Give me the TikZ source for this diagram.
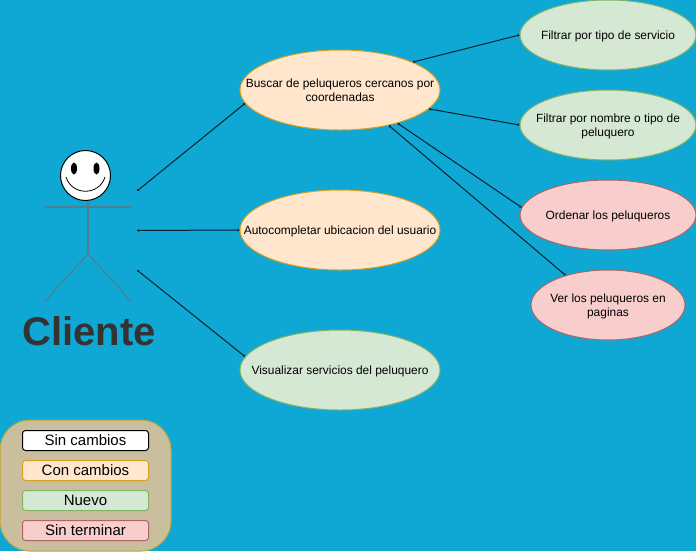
\documentclass[tikz,border=0pt]{standalone}
\usepackage{fontspec}
\setmainfont{Liberation Sans}
\usetikzlibrary{shapes.geometric,arrows.meta}
\definecolor{fondo}{HTML}{0FA8D4}
\definecolor{naranja}{HTML}{FFE6CC}
\definecolor{naranjab}{HTML}{D8A020}
\definecolor{verde}{HTML}{D5E8D4}
\definecolor{verdeb}{HTML}{82B366}
\definecolor{rojo}{HTML}{F8CECC}
\definecolor{rojob}{HTML}{AE6468}
\definecolor{arena}{HTML}{C9BE9E}
\definecolor{gris}{HTML}{4F7F92}
\definecolor{linea}{HTML}{06202E}
\begin{document}
\begin{tikzpicture}[x=0.75pt,y=-0.75pt,
	caso/.style = {ellipse,draw,line width=0.75pt,inner xsep=-60pt,inner ysep=-12pt,text depth=-1.2pt,align=center,font=\fontsize{8.95}{10.5}\selectfont},
	grande/.style = {caso,minimum width=150pt,minimum height=60pt},
	chico/.style = {caso,minimum width=132pt,minimum height=52.5pt},
	conCambios/.style = {fill=naranja,draw=naranjab},
	nuevo/.style = {fill=verde,draw=verdeb},
	sinTerminar/.style = {fill=rojo,draw=rojob},
	leyenda/.style = {draw,rounded corners=2.25pt,line width=0.75pt,minimum width=94.5pt,minimum height=15pt,inner sep=0pt,font=\fontsize{11.25}{12}\selectfont},
	enlace/.style = {line width=0.75pt,draw=linea,{Stealth[length=1.5pt,width=2.25pt]}-{Stealth[length=1.5pt,width=2.25pt]}},
	figura/.style = {gris,line width=0.9pt}]
	\fill[fondo] (0,0) rectangle (696,551);
	\useasboundingbox (0,0) rectangle (696,551);

	\node[grande,conCambios] (buscar) at (340,90) {Buscar de peluqueros cercanos por\\coordenadas};
	\node[grande,conCambios] (ubicacion) at (340,230) {Autocompletar ubicacion del usuario};
	\node[grande,nuevo] (servicios) at (340,370) {Visualizar servicios del peluquero};
	\node[chico,nuevo] (tipo) at (608,35) {Filtrar por tipo de servicio};
	\node[chico,nuevo] (nombre) at (608,125) {Filtrar por nombre o tipo de\\peluquero};
	\node[chico,sinTerminar] (ordenar) at (608,215) {Ordenar los peluqueros};
	\node[caso,sinTerminar,minimum width=115.5pt,minimum height=52.5pt] (ver) at (608,305) {Ver los peluqueros en\\paginas};

	% actor
	\node[circle,draw,fill=white,line width=0.75pt,minimum size=37.5pt,inner sep=0pt] (cara) at (85.5,175.5) {};
	\fill (74,168.5) ellipse (3 and 6);
	\fill (96.5,168.5) ellipse (3 and 6);
	\draw[line width=0.6pt] (66,177) .. controls (72,196) and (99,196) .. (105,177);
	\coordinate (cuello) at (88,201);
	\coordinate (cadera) at (88,254);
	\coordinate (brazoI) at (45,207);
	\coordinate (brazoD) at (131,207);
	\coordinate (pieI) at (45,301);
	\coordinate (pieD) at (131,301);
	\draw[figura] (cuello) -- (cadera);
	\draw[figura] (brazoI) -- (brazoD);
	\draw[figura] (pieI) -- (cadera) -- (pieD);
	\node[font=\bfseries\fontsize{30}{34}\selectfont,text=black!80,inner sep=0pt] (cliente) at (89,331) {Cliente};

	\coordinate (a1) at (137,191);
	\coordinate (a2) at (137,230.5);
	\coordinate (a3) at (137,270);
	\draw[enlace] (a1) -- (buscar.188);
	\draw[enlace] (a2) -- (ubicacion.west);
	\draw[enlace] (a3) -- (servicios.172);
	\draw[enlace] (buscar.21.5) -- (tipo.west);
	\draw[enlace] (buscar.-12.5) -- (nombre.west);
	\draw[enlace] (buscar.-30.4) -- (ordenar.175);
	\draw[enlace] (buscar.-36.9) -- (ver.145);

	% leyenda
	\draw[fill=arena,draw=naranjab!70!verdeb,line width=0.75pt,rounded corners=22.5pt] (0,420) rectangle (171,551);
	\node[leyenda,fill=white,draw=black] (l1) at (85.5,440.5) {Sin cambios};
	\node[leyenda,conCambios] (l2) at (85.5,470.5) {Con cambios};
	\node[leyenda,nuevo] (l3) at (85.5,500.5) {Nuevo};
	\node[leyenda,sinTerminar] (l4) at (85.5,530.5) {Sin terminar};
\end{tikzpicture}
\end{document}
